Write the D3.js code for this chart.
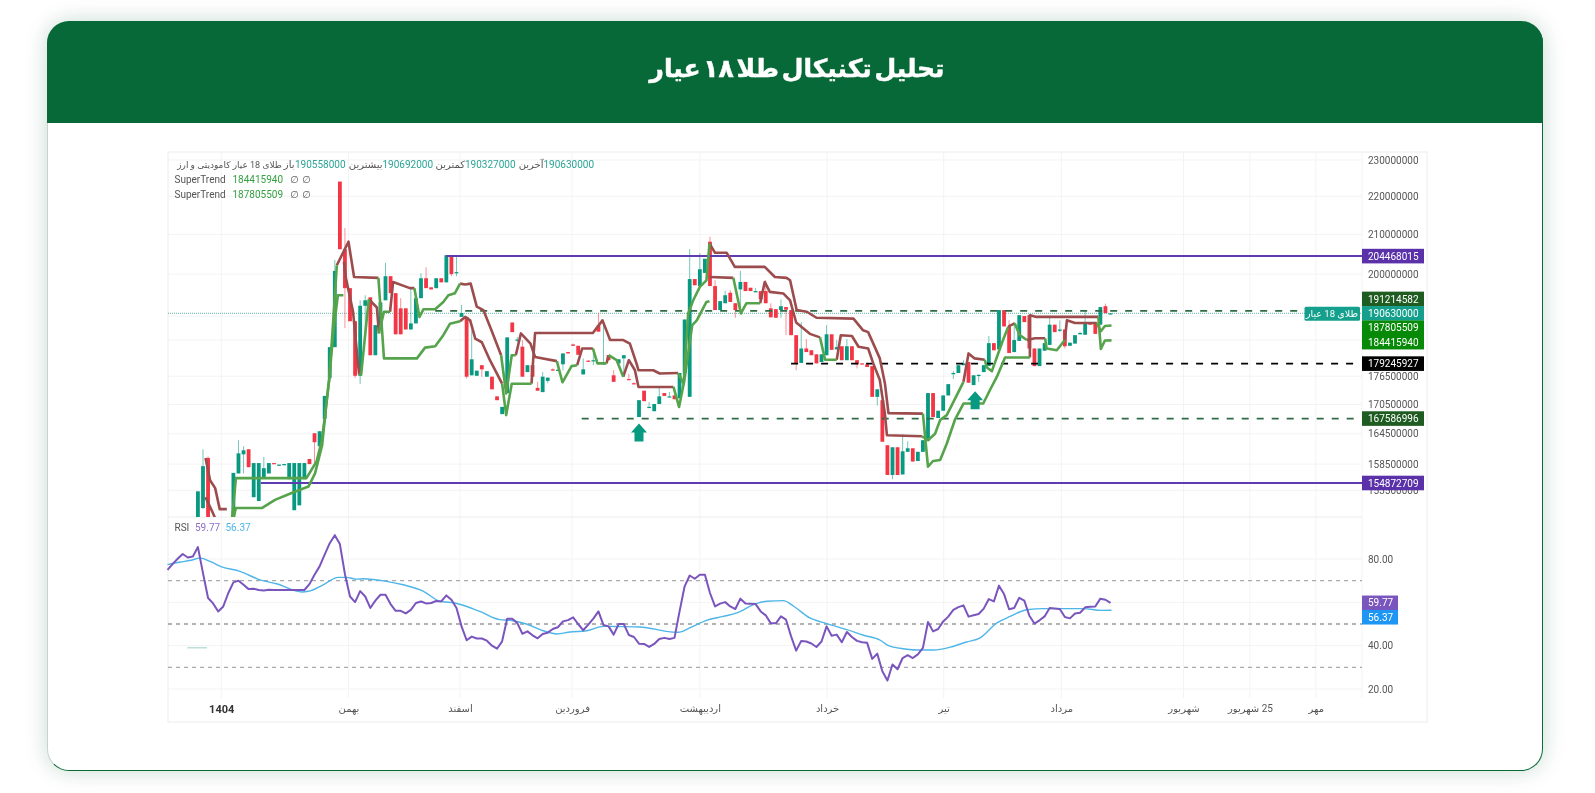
<!DOCTYPE html>
<html lang="fa">
<head>
<meta charset="utf-8">
<title>تحلیل تکنیکال طلا ۱۸ عیار</title>
<script src="https://cdn.jsdelivr.net/npm/d3@7"></script>
<style>
html, body { margin: 0; padding: 0; background: #fff; width: 1595px; height: 793px; overflow: hidden; }
#card { position: absolute; left: 47px; top: 21px; width: 1496px; height: 750px; background: #fff; border-radius: 22px;
  box-shadow: 0 0 22px rgba(6, 90, 50, .22); border: 1px solid #0a6b3a; border-top: 0; border-left: 1px solid #c9d2cd; box-sizing: border-box; }
#head { position: absolute; left: 47px; top: 21px; width: 1496px; height: 102px; background: #076937; border-radius: 22px 22px 0 0; }
svg { position: absolute; left: 0; top: 0; filter: blur(0.4px); }
text { font-family: Roboto, "DejaVu Sans", sans-serif; }
</style>
</head>
<body>
<div id="card"></div>
<div id="head"></div>
<svg id="chart" width="1595" height="793"></svg>
<script>
/* candles, in million rial per index. first ones sit below the visible pane */
var candleOpen = [
  139,139.5,140.5,141.5,142.5,143,146,150.2,159.7,146,
  145,144,145,146,156.7,160.4,161.4,152.2,151.5,156,
  156.7,158.7,158.3,158.3,155.6,149.8,150.7,155.6,159.5,164.6,
  162,167.5,176.1,182.9,224,206.2,196.6,188.8,176.6,192.4,
  194.4,181.1,187.4,193.7,199.5,195.4,191.8,191.8,186.9,188.3,
  194.2,199,196.8,196.6,199,198,204.5,200.2,189.8,189.8,
  176.7,176.6,178.9,176.4,176.4,172.2,168.5,172.9,188.5,184.4,
  183,177.4,178.9,174,173.1,175.5,178,177.7,179.1,181.8,
  183.5,183.2,176.9,179.9,179.9,187.8,179.1,181.1,176.7,179.3,
  180.4,175.9,175,167.9,173.4,169.9,169.1,170.6,172.9,172,
  172.4,171.8,177.1,172.1,198.8,197.1,200.3,208.1,197.1,191.4,
  193,195.5,193,196.3,198.1,196.7,195.6,195.9,195.9,191.8,
  191.6,191.4,192.1,191.4,185.6,179.4,182.6,182.2,181.3,179.6,
  181.1,185.8,182.4,183.1,180,183.1,180,179.3,179.1,178.7,
  172.1,171.4,162.2,156.4,161.8,156.5,160.9,161.6,159.1,160.9,
  163.1,172.9,167.7,169.2,172.4,177,177.2,178.9,179.6,174.6,
  176.7,177.4,178.7,183.8,182.4,191.4,187.5,181.8,184.3,190,
  190.2,182.6,178.7,182.1,183.4,188,186.6,186.9,183.2,183.7,
  185.8,185.7,188.5,188.5,188,192.3,190.558
];
var candleHigh = [
  140,141,142,143,144,146,153.3,161.4,160,147,
  146.5,146,147,156.8,163.2,162,161.4,158.7,158.7,159.9,
  158.7,158.7,158.4,158.5,158.7,158.7,158.7,158.7,159.5,164.6,
  165,172.3,182.9,203.5,224,211.6,196.6,188.8,193.7,194.9,
  194.4,187.9,193.2,202.8,199.5,195.4,194.2,191.8,196.6,194.2,
  200.2,201.7,196.8,199,199,204.7,204.5,204.5,192.6,189.8,
  186.7,177.7,178.9,177.6,176.4,172.2,170,185.1,188.5,185.2,
  184.5,178.9,178.9,175.3,177.4,176.2,178.2,178.2,181.5,181.8,
  183.7,183.2,180.4,180,181.6,190.7,189,181.1,177.8,180.2,
  181.1,177,175.2,171.4,173.4,171,170.6,174.2,172.9,173.1,
  172.4,177.2,189.2,206.2,198.8,205.2,203.8,209.4,198.5,193.5,
  196,196.1,193,200.8,198.1,196.7,196.6,195.9,198.5,193,
  191.6,193.9,192.1,191.4,185.6,188.6,184.7,182.2,181.3,181.3,
  187.9,185.8,184.5,183.1,184.7,183.1,180,179.3,179.1,178.7,
  173.7,171.4,162.2,161.8,161.8,164.4,163,161.6,160.9,163.2,
  172.9,172.9,169.2,172.4,174.8,177.6,178.9,180,179.6,176.7,
  176.9,178.9,185.4,183.8,191.4,191.4,189,188.6,190.2,190,
  190.2,182.6,182.6,183.8,189.7,188,189,186.9,183.9,185.6,
  186.4,191.4,188.6,188.5,192.1,192.9,190.692
];
var candleLow = [
  138,139,140,141,142,142.5,146,150,145,144,
  143,143,144,145.5,156.7,156.7,157.9,152.2,151.5,156,
  156.7,158.5,158.3,158.3,155.6,149.8,150.7,155.6,158.5,158.7,
  162,167.5,176.1,182.9,206.2,187.2,188.8,176.1,174.8,186.2,
  181.1,181.1,187.4,193.7,195.4,185.8,185.8,186.9,186.9,188.3,
  194.2,196.6,196.3,196.6,198,198,199.5,199.5,189.8,176,
  176.7,176.6,176.4,176.4,173.7,171.4,168.5,172.9,186.3,184,
  176.4,177.4,176.4,173.4,173.1,175,177.6,177.6,177.8,181.5,
  183.2,181.2,176.9,179.7,178.9,186.4,179.1,180,175.3,179.3,
  176.4,175.7,174.8,167.9,171.2,169.9,169.1,170.6,172.3,172,
  171.6,171.8,177.1,172.1,197.3,197.1,200.3,197.1,191.4,191.4,
  193,193.3,189.6,190.7,195.9,195.9,195.6,193.9,193,189.7,
  189.6,189.6,185.6,185.6,177.8,179.4,181.8,181.1,179.3,179.6,
  181.1,182.3,182.4,180,180,180,178.2,179.1,178.5,172.1,
  170.3,162.9,156.4,155.6,156.4,156.5,160.9,159,159.1,160.9,
  163.1,167.9,167.7,169.2,172.4,175.9,177.2,178.9,175.1,174.6,
  175.3,177.4,178.7,182.2,182.4,187.6,181.6,181.8,184.3,188.6,
  182.6,178.7,178.7,182.1,183.4,186.3,186.3,182.6,183.2,183.7,
  185.8,185.7,188,185.9,188,190.6,190.327
];
var candleClose = [
  139.5,140.5,141.5,142.5,143,145.5,153.3,158.1,146,145,
  144,145,146,156.8,160.6,161.2,157.9,158.7,158.7,157.7,
  158.7,158.5,158.4,158.5,158.7,158.7,158.7,158.7,158.5,162.8,
  165,172.3,182.9,200.8,206.2,196.6,188.8,176.6,192.4,193.7,
  181.1,187.9,193.2,199.5,195.4,185.8,185.8,186.9,188.3,194.2,
  199,196.6,196.3,199,198,204.7,200,200.5,190.7,176.4,
  180.2,177.7,178,177.6,173.7,171.4,170,185.1,186.3,184.6,
  176.4,178.9,176.4,173.4,176.4,176.2,177.8,177.9,181.5,181.5,
  183.2,181.2,178,179.7,180,186.4,179.4,180,175.3,180.2,
  181.1,175.7,174.8,171.4,171.2,170,170.6,172.2,172.3,172.2,
  171.6,177.2,189.2,198.8,197.3,201.2,203.8,197.1,191.4,193.5,
  194.9,193.3,191.4,198.1,195.9,195.9,195.9,193.9,193,189.7,
  189.6,192.3,191.5,185.6,179.4,182.6,181.8,181.1,179.3,181.3,
  185.8,182.3,182.9,180,183.1,180,179.1,179.1,178.5,172.1,
  173.7,162.9,156.4,161.8,156.4,161,161.6,159,160.9,163.2,
  172.9,167.9,169.2,172.4,174.8,177.2,178.9,179.3,175.1,176.7,
  176.8,178.9,183.8,182.2,191.4,187.6,181.6,184.5,190.2,188.6,
  182.6,178.7,182.6,183.8,188,186.3,186.9,183.1,183.9,185.6,
  186.1,188.2,188,185.9,192.1,190.7,190.63
];

/* supertrend pieces, [candle index, price]. up trend is green, down trend is brown */
var trendDownParts = [
  [[7.5,159.7],[8.4,155.4],[9.4,153.9],[10.3,150],[11.7,150]],
  [[7.5,152.2],[9,149.2],[10,147]],
  [[33.4,202.2],[35.7,208.1],[36.8,199.3],[41.6,199.1]],
  [[34.8,203],[35.2,199],[36.6,191],[37.5,180],[37.8,176.9]],
  [[39.7,194],[41.3,192],[41.7,186]],
  [[43.9,191],[44.5,198.1],[47.8,196.6],[48.7,196.6]],
  [[57.7,197.7],[58.7,197.5],[59.8,197.7],[61,192.2],[62.3,191.4],[63.9,186.7],[65.8,181.1]],
  [[57.7,188.8],[58.7,189.8],[59.7,189],[60.7,184.8],[62,184],[63.6,180],[66,174.9]],
  [[68.7,181.1],[69.7,186],[71.6,183.7],[72.5,180.7],[76.8,179.8]],
  [[71.8,174.9],[72.5,186.1],[83.9,186.1],[85.8,189],[87.3,184.5],[89.9,184.5],[91.2,183.7],[92.5,179.3],[92.9,177.8],[95.8,177.8],[97.1,177.1],[100.7,177.2]],
  [[80.8,178.9],[81.8,182.6],[83.9,182.6]],
  [[86.6,179.3],[87,181.1]],
  [[89.9,176.4],[91,180],[92.2,177.8],[92.9,174.2],[99.8,174.2]],
  [[106.9,207.7],[108,205.3],[110.3,205.3],[111.9,201.8],[117.8,201.8],[119.8,199.3],[122.1,199.1],[122.8,198.5],[124.1,191.4],[126.1,191],[128,189.6],[135.3,189.4],[137.2,186.7],[138.2,186.3],[140.5,180.4],[141.5,175],[142.2,168.7],[149,168.6]],
  [[106.9,199.3],[111.6,199.1]],
  [[116.9,193],[117.8,198.1],[118.8,195.7],[121.5,195.3],[122.8,193.7],[124,188.5],[126.7,185.9],[128.7,185.1]],
  [[132,180.1],[132.8,185.6],[135,185.4],[136.3,183],[138.2,182.6],[139.2,179.3],[140.5,175.7],[141.5,168.6],[141.9,164.2],[148.8,164]],
  [[157,175.3],[158,181.5],[159.2,180.4],[161.2,180.1]],
  [[165.8,187.4],[166.2,187.8],[167.1,188.3]],
  [[170.1,180.6],[170.1,190.2],[171.4,189.8],[183.6,189.8]],
  [[169.5,184.5],[171.1,184.9],[173.1,184.9]],
  [[177,184.5],[177.4,189],[179,188.4],[183.3,188.4]]
];
var trendUpParts = [
  [[12.6,147],[13.5,155.8],[27.4,155.8],[29.4,159],[30.4,163],[31.1,168.3],[31.9,176.1],[32.7,189],[33.4,202.2]],
  [[12.6,147],[13.5,150.2],[18.6,150.2],[21.2,151.7],[24.5,153],[27.8,154.2],[29.1,156.7],[30.5,162.2],[31.3,170.4],[31.9,175.7],[32.7,186.3],[33.6,194.9],[34.7,194.9]],
  [[41.6,199.1],[42.7,180.4],[49.2,180.4],[50.8,182.8],[52.8,183.1],[54.4,185.6],[55.7,188.2],[57.7,188.8]],
  [[37.8,176.9],[38.2,176.9],[39.7,194]],
  [[41.7,186],[42.7,191],[43.9,191]],
  [[48.7,196.6],[49.7,189.8],[50.5,191.6],[52.8,191.6],[54.4,193.3],[55.4,194.9],[56.7,195.4],[57.7,197.7]],
  [[66,174.9],[66.8,168.3],[67.9,174.9],[71.8,174.9]],
  [[65.8,181.1],[66.8,172.8],[67.9,181.1],[68.7,181.1]],
  [[76.8,179.8],[77.9,175.2],[79.7,178.7],[80.8,178.9]],
  [[83.9,182.6],[84.8,179.3],[86.6,179.3]],
  [[87,181.1],[88.6,180],[89.9,176.4]],
  [[99.8,174.2],[100.9,170],[101.9,175.3],[103.5,187.9],[104.4,189],[106.3,193.3],[106.9,193.5]],
  [[100.7,177.2],[101.8,174.9],[102.7,190.6],[103.7,193.7],[105,196.9],[106.3,198.5],[106.9,207.7]],
  [[111.6,199.1],[113.1,190.6],[114.2,193],[116.9,193]],
  [[128.7,185.1],[129.7,180.1],[132,180.1]],
  [[149,168.6],[150,158],[151,159.1],[152.4,159.3],[153.7,162.5],[155.3,167.3],[157,170.7],[160.9,170.7],[162.2,173.5],[163.6,176.4],[165.2,180.6],[170.1,180.6]],
  [[148.8,164],[150,163.2],[151.4,164.5],[152.4,167.3],[153.7,168.3],[155,171],[157,175.3]],
  [[161.2,180.1],[161.6,178.4],[162.6,177.6],[164.8,184.5],[165.8,187.4]],
  [[167.1,188.3],[168.1,185.6],[169.5,184.5]],
  [[173.1,184.9],[173.4,182.6],[175.4,182.2],[177,184.5]],
  [[183.6,189.8],[184.1,182.5],[184.9,184.4],[186.2,184.416]],
  [[183.3,188.4],[184.1,186.5],[184.9,187.7],[186.2,187.806]]
];

/* rsi per candle */
var rsiValues = [
  75,77.6,80.1,82.3,80.7,81.2,85.5,73.5,62,59.5,
  55.8,58.1,64.3,69.2,70,68.1,66.1,66.3,65.7,65.5,
  65.8,65.7,65.7,65.7,65.7,65.7,65.7,65.7,68.4,72.7,
  76.6,82,87.3,91,86.9,73,62.7,60.1,65.2,62.7,
  57.4,60.8,63.5,63.5,59.2,56.1,56.1,54.9,56.5,59.7,
  60.4,59.5,59.7,60.6,60.4,63.2,61.2,57.4,48.9,42.5,
  44.2,43.3,43.3,42.3,40,38.6,42,52.4,52.4,50.4,
  45.5,46.6,44.8,43.4,45.4,46,47.7,48.5,51.2,51.8,
  53.1,50,47.1,49.7,52.5,55.8,49.5,48.9,45.1,50,
  50,44.9,44,40.9,40.8,39.4,40.8,43.1,43.6,43.1,
  43.6,55.8,67.4,72.4,70.9,72.7,72.7,64.3,58.1,59.4,
  60.1,58.1,56.9,61.7,59.5,59.4,59.2,55.8,54,50.3,
  50.3,53.5,52,44.3,37.7,42.2,41.9,41,39.4,41.9,
  48.9,44.6,45.1,41.6,46.3,44,42.2,41.6,41.3,33.9,
  36.3,28.2,23.9,31.3,29.1,34.3,35.6,34.3,36,39,
  50.9,46.6,47.7,51.2,53.4,56.5,57.8,58.6,53.4,54,
  54.6,57.1,61.5,60.4,67.7,63.8,56.8,57.4,62.1,60.8,
  53.8,50.2,51.7,53.5,57.4,57.2,56.9,53.2,52.6,54.8,
  55.2,57.7,58,58.1,61.7,61.2,59.77
];
/* rsi moving average, [candle index, value] */
var rsiAvgPoints = [
  [0,77.4],[2.5,78.6],[4.4,79.3],[6.5,80.4],[8.4,78.9],[10.7,76.4],[14.3,74.3],[18.2,70.4],[21.5,68.6],[26.5,64.8],
  [27.8,65.1],[30.7,68.1],[33.7,71.5],[35.3,71.5],[37.3,70.7],[38.6,70.9],[43.2,69.7],[46.5,68.1],[50.5,65.1],[53.7,60.5],
  [56.7,59.7],[61.6,55.8],[65.6,52],[67.6,51.7],[70.8,50],[74.1,46.9],[76.8,45.4],[79.4,46.3],[82.7,46.9],[86,48.9],
  [89.3,48.8],[93.2,48.6],[97.1,47.2],[98.4,46.6],[100.8,46.2],[103,48.2],[106.3,51.7],[109.6,53.5],[112.3,55.1],[115.6,58.9],
  [118.2,60.5],[121.5,60.8],[123.5,58.2],[126.7,52.8],[130,50.2],[134,47.4],[137.3,44.8],[140.6,42.5],[142.2,40],[144.5,38.8],
  [147.8,38],[151.1,38],[154.4,39.3],[157.6,41.7],[160.3,43.6],[163.6,50.5],[166.2,53.5],[169.5,56.6],[172.8,57.1],[176.7,57.1],
  [180.7,57.1],[184.2,56.3],[186.2,56.37]
];
var rsiStray = [[3.9,39],[7.8,39]];

var priceTicks = [230,220,210,200,176.5,170.5,164.5,158.5,153.5];
var priceGridOnly = [190,184.5];
var rsiTicks = [80,40,20];
var rsiGridOnly = [60];
var rsiGuides = [70,50,30];

var timeTicks = [10.6,35.7,57.7,79.8,105,130.1,153.1,176.3,200.4,213.5,226.5];
var timeLabels = ["1404","بهمن","اسفند","فروردین","اردیبهشت","خرداد","تیر","مرداد","شهریور","25 شهریور","مهر"];

var arrowIndex = [93,159.3];
var arrowPrice = [166.6,173.3];

var resistanceLevel = 204.468015, resistanceStart = 55;
var supportLevel = 154.872709, supportStart = 18.4;
var dashLevels = [191.214582,179.245927,167.586996];
var dashStarts = [52.8,123,81.7];
var lastPrice = 190.63;
var trendLast = [187.805509,184.415940];

var fmtPrice = function (d) { return d3.format(".0f")(d * 1e6) };

var svg = d3.select("#chart");

var x = d3.scaleLinear().domain([0, 186]).range([167.5, 1110.5]);
var yPrice = d3.scaleLog().domain([230, 154.872709]).range([160, 483]);
var yRsi = d3.scaleLinear().domain([80, 20]).range([559, 689]);

var frameLeft = 168, frameRight = 1427, frameTop = 152, frameBottom = 722;
var paneRight = 1362, paneSplit = 517, rsiBottom = 698;
var labelWidth = 62;

/* title */
svg.append("text").attr("x", 797).attr("y", 77).attr("text-anchor", "middle").attr("direction", "rtl")
  .style("font-family", '"DejaVu Sans"').style("font-weight", "bold").style("font-size", "25px").style("word-spacing", "-6px")
  .attr("fill", "#fff").attr("stroke", "#fff").attr("stroke-width", .5).text("تحلیل تکنیکال طلا ۱۸ عیار");

/* frame and grid */
svg.append("rect").attr("x", frameLeft).attr("y", frameTop).attr("width", frameRight - frameLeft).attr("height", frameBottom - frameTop)
  .attr("fill", "#fff").attr("stroke", "#ececec");

var grid = svg.append("g").attr("stroke", "#f3f3f3");
grid.selectAll(".h1").data(priceTicks.concat(priceGridOnly)).enter().append("line")
  .attr("x1", frameLeft).attr("x2", paneRight).attr("y1", function (d) { return yPrice(d) }).attr("y2", function (d) { return yPrice(d) });
grid.selectAll(".h2").data(rsiTicks.concat(rsiGridOnly)).enter().append("line")
  .attr("x1", frameLeft).attr("x2", paneRight).attr("y1", function (d) { return yRsi(d) }).attr("y2", function (d) { return yRsi(d) });
grid.selectAll(".v").data(timeTicks).enter().append("line")
  .attr("x1", function (d) { return x(d) }).attr("x2", function (d) { return x(d) }).attr("y1", frameTop).attr("y2", rsiBottom);
svg.append("line").attr("x1", frameLeft).attr("x2", paneRight).attr("y1", paneSplit).attr("y2", paneSplit).attr("stroke", "#ececec");
svg.append("line").attr("x1", paneRight).attr("x2", paneRight).attr("y1", frameTop).attr("y2", rsiBottom).attr("stroke", "#f3f3f3");

var clip = svg.append("clipPath").attr("id", "pricePane").append("rect")
  .attr("x", frameLeft).attr("y", frameTop).attr("width", paneRight - frameLeft).attr("height", paneSplit - frameTop);

var plot = svg.append("g").attr("clip-path", "url(#pricePane)");

/* price line */
plot.append("line").attr("x1", frameLeft).attr("x2", paneRight).attr("y1", yPrice(lastPrice)).attr("y2", yPrice(lastPrice))
  .attr("stroke", "#5fb8aa").attr("stroke-dasharray", "1,1");

/* candles */
var upColor = "#089981", downColor = "#f23645";
var barWidth = 3.8;
var candles = plot.selectAll(".candle").data(candleOpen).enter().append("g");
candles.append("line")
  .attr("x1", function (d, i) { return x(i) }).attr("x2", function (d, i) { return x(i) })
  .attr("y1", function (d, i) { return yPrice(candleHigh[i]) }).attr("y2", function (d, i) { return yPrice(candleLow[i]) })
  .attr("stroke", function (d, i) { return candleClose[i] >= d ? upColor : downColor }).attr("stroke-opacity", .55);
candles.append("rect")
  .attr("x", function (d, i) { return x(i) - barWidth / 2 }).attr("width", barWidth)
  .attr("y", function (d, i) { return yPrice(Math.max(d, candleClose[i])) })
  .attr("height", function (d, i) { return Math.max(1.2, Math.abs(yPrice(d) - yPrice(candleClose[i]))) })
  .attr("fill", function (d, i) { return candleClose[i] >= d ? upColor : downColor });

/* levels */
plot.append("line").attr("x1", x(resistanceStart)).attr("x2", paneRight).attr("y1", yPrice(resistanceLevel)).attr("y2", yPrice(resistanceLevel))
  .attr("stroke", "#5e3bb0").attr("stroke-width", 2);
plot.append("line").attr("x1", x(supportStart)).attr("x2", paneRight).attr("y1", yPrice(supportLevel)).attr("y2", yPrice(supportLevel))
  .attr("stroke", "#5e3bb0").attr("stroke-width", 2);
plot.selectAll(".dash").data(dashLevels).enter().append("line")
  .attr("x1", function (d, i) { return x(dashStarts[i]) }).attr("x2", paneRight - 3)
  .attr("y1", function (d) { return yPrice(d) }).attr("y2", function (d) { return yPrice(d) })
  .attr("stroke", function (d, i) { return i == 1 ? "#000" : "#2f6b45" }).attr("stroke-width", 1.8).attr("stroke-dasharray", "7,8");

/* supertrend */
var trendLine = d3.line().x(function (d) { return x(d[0]) }).y(function (d) { return yPrice(d[1]) });
plot.selectAll(".down").data(trendDownParts).enter().append("path").attr("d", trendLine)
  .attr("fill", "none").attr("stroke", "#9c4c4c").attr("stroke-width", 2.6).attr("stroke-linejoin", "round");
plot.selectAll(".up").data(trendUpParts).enter().append("path").attr("d", trendLine)
  .attr("fill", "none").attr("stroke", "#55a34b").attr("stroke-width", 2.6).attr("stroke-linejoin", "round");

/* signal arrows */
plot.selectAll(".arrow").data(arrowIndex).enter().append("path")
  .attr("transform", function (d, i) { return "translate(" + x(d) + "," + yPrice(arrowPrice[i]) + ")" })
  .attr("d", "M0,0L8,9L4.5,9L4.5,18L-4.5,18L-4.5,9L-8,9Z").attr("fill", upColor);

/* rsi pane */
var rsiLine = d3.line().x(function (d, i) { return x(i) }).y(function (d) { return yRsi(d) });
var avgLine = d3.line().x(function (d) { return x(d[0]) }).y(function (d) { return yRsi(d[1]) }).curve(d3.curveMonotoneX);
svg.selectAll(".guide").data(rsiGuides).enter().append("line")
  .attr("x1", frameLeft).attr("x2", paneRight)
  .attr("y1", function (d) { return yRsi(d) }).attr("y2", function (d) { return yRsi(d) })
  .attr("stroke", function (d) { return d == 50 ? "#666" : "#aaa" }).attr("stroke-width", 1.1).attr("stroke-dasharray", "4,4");
svg.append("path").datum(rsiStray).attr("d", avgLine).attr("fill", "none").attr("stroke", "#9ccfc6");
svg.append("path").datum(rsiAvgPoints).attr("d", avgLine).attr("fill", "none").attr("stroke", "#4db5e8").attr("stroke-width", 1.4);
svg.append("path").datum(rsiValues).attr("d", rsiLine).attr("fill", "none").attr("stroke", "#7a55bd").attr("stroke-width", 2).attr("stroke-linejoin", "round");

/* axes */
var priceAxis = d3.axisRight(yPrice).tickValues(priceTicks).tickSize(0).tickPadding(6).tickFormat(fmtPrice);
var rsiAxis = d3.axisRight(yRsi).tickValues(rsiTicks).tickSize(0).tickPadding(6).tickFormat(d3.format(".2f"));
var timeAxis = d3.axisBottom(x).tickValues(timeTicks).tickSize(0).tickPadding(0).tickFormat(function (d, i) { return timeLabels[i] });

svg.append("g").attr("transform", "translate(" + paneRight + ",0)").call(priceAxis).call(styleAxis);
svg.append("g").attr("transform", "translate(" + paneRight + ",0)").call(rsiAxis).call(styleAxis);
var timeG = svg.append("g").attr("transform", "translate(0,705)").call(timeAxis).call(styleAxis);
timeG.selectAll("text").attr("direction", "rtl")
  .style("font-size", function (d, i) { return i == 0 ? "11px" : "10px" })
  .style("font-weight", function (d, i) { return i == 0 ? "bold" : "normal" })
  .attr("fill", function (d, i) { return i == 0 ? "#333" : "#555" });

function styleAxis (g) {
  g.select(".domain").remove();
  g.selectAll("text").style("font-size", "10px").style("font-family", 'Roboto, "DejaVu Sans"').attr("fill", "#555");
}

/* price labels on the axis */
function axisLabel (y, value, color, width) {
  svg.append("rect").attr("x", paneRight).attr("y", y - 7.3).attr("width", width).attr("height", 14.6).attr("fill", color);
  svg.append("text").attr("x", paneRight + 6).attr("y", y + 3.6).attr("fill", "#fff").style("font-size", "10px").text(value);
}
axisLabel(yPrice(resistanceLevel), fmtPrice(resistanceLevel), "#5a31a8", labelWidth);
axisLabel(yPrice(dashLevels[1]), fmtPrice(dashLevels[1]), "#000", labelWidth);
axisLabel(yPrice(dashLevels[2]), fmtPrice(dashLevels[2]), "#1f5c22", labelWidth);
axisLabel(yPrice(supportLevel), fmtPrice(supportLevel), "#5a31a8", labelWidth);

/* these four would overlap so they stack around the last price */
var lastY = yPrice(lastPrice);
axisLabel(lastY - 14.4, fmtPrice(dashLevels[0]), "#1f5c22", labelWidth);
axisLabel(lastY, fmtPrice(lastPrice), "#14a08c", labelWidth);
axisLabel(lastY + 14.4, fmtPrice(trendLast[0]), "#078a07", labelWidth);
axisLabel(lastY + 28.8, fmtPrice(trendLast[1]), "#078a07", labelWidth);

svg.append("rect").attr("x", 1304.5).attr("y", lastY - 6.6).attr("width", 55.5).attr("height", 14).attr("rx", 1.5).attr("fill", "#14a08c");
svg.append("text").attr("x", 1332).attr("y", lastY + 3.8).attr("text-anchor", "middle").attr("direction", "rtl")
  .attr("fill", "#fff").style("font-size", "9.5px").text("طلای 18 عیار");

axisLabel(yRsi(rsiValues[rsiValues.length - 1]), "59.77", "#7a55bd", 36);
axisLabel(yRsi(rsiValues[rsiValues.length - 1]) + 14.4, "56.37", "#1e96f3", 36);

/* legend */
var legendTeal = "#2ba596", legendGreen = "#35a043", legendGrey = "#555";
function legendText (xPos, y, str, color, rtl, size) {
  var t = svg.append("text").attr("x", xPos).attr("y", y).attr("fill", color).style("font-size", (size || 10) + "px").text(str);
  if (rtl) t.attr("direction", "rtl").attr("text-anchor", "start");
}
legendText(282, 168, "طلای 18 عیار کامودیتی و ارز", legendGrey, true, 9);
legendText(294.5, 168, "باز", legendGrey, true);
legendText(295, 168, "190558000", legendTeal);
legendText(382.5, 168, "بیشترین", legendGrey, true);
legendText(382.5, 168, "190692000", legendTeal);
legendText(465, 168, "کمترین", legendGrey, true);
legendText(465, 168, "190327000", legendTeal);
legendText(543.5, 168, "آخرین", legendGrey, true);
legendText(543.5, 168, "190630000", legendTeal);
legendText(174.5, 183, "SuperTrend", legendGrey);
legendText(232.5, 183, "184415940", legendGreen);
legendText(290, 183, "∅", legendGrey);
legendText(302, 183, "∅", legendGrey);
legendText(174.5, 197.5, "SuperTrend", legendGrey);
legendText(232.5, 197.5, "187805509", legendGreen);
legendText(290, 197.5, "∅", legendGrey);
legendText(302, 197.5, "∅", legendGrey);
legendText(174.5, 531, "RSI", legendGrey);
legendText(195, 531, "59.77", "#8d6fc9");
legendText(225.5, 531, "56.37", "#4db5e8");
</script>
</body>
</html>
